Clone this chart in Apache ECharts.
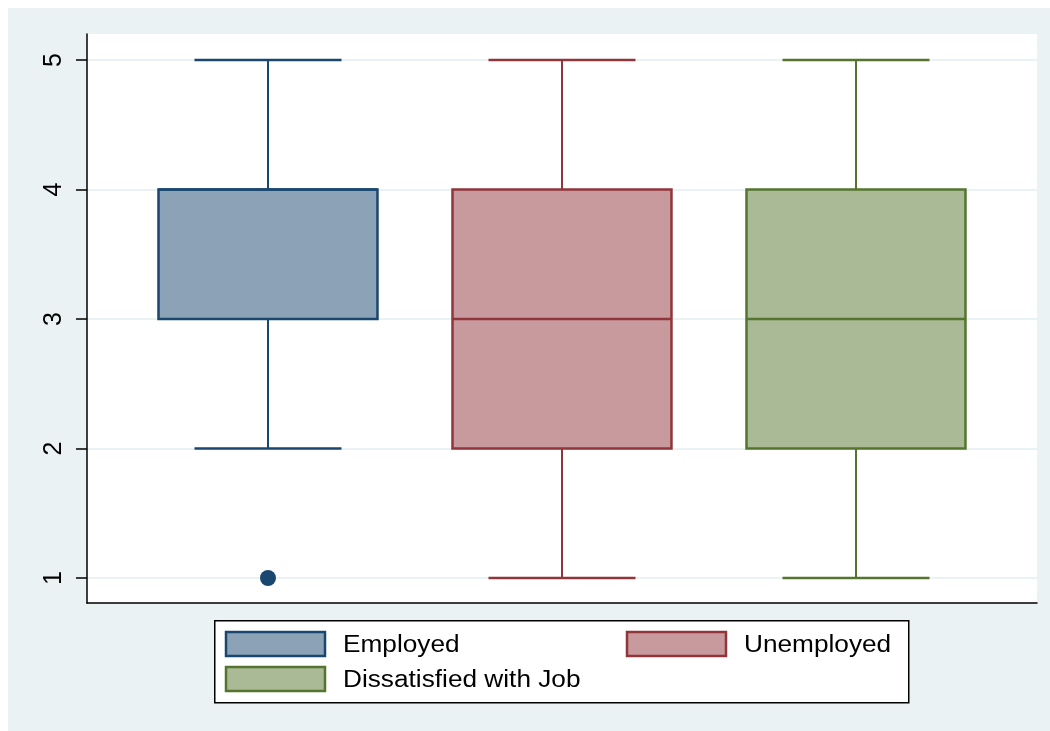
<!DOCTYPE html>
<html>
<head>
<meta charset="utf-8">
<script src="https://cdn.jsdelivr.net/npm/echarts@6/dist/echarts.min.js"></script>
<style>
html,body{margin:0;padding:0;background:#fff;}
#chart{width:1050px;height:731px;}
</style>
</head>
<body>
<div id="chart"></div>
<script>
// ---- data ----
const categories = ['Employed', 'Unemployed', 'Dissatisfied with Job'];
const whiskerLow  = [2, 1, 1];
const quartile1   = [3, 2, 2];
const medians     = [4, 3, 3];
const quartile3   = [4, 4, 4];
const whiskerHigh = [5, 5, 5];
const outlierCat  = [0];
const outlierVal  = [1];
const yTicks      = [1, 2, 3, 4, 5];

// ---- styles ----
const lineColors = ['#1A476F', '#90353B', '#55752F'];
const fillColors = ['#8CA3B7', '#C89A9D', '#AABA97'];
const FONT = '"Liberation Sans", Arial, sans-serif';

const chart = echarts.init(document.getElementById('chart'), null, {renderer: 'canvas'});

function boxRender(params, api) {
  const x = api.value(0);
  const band = api.size([1, 0])[0];
  const boxHalf = band * 0.3724;
  const capHalf = band * 0.25;
  const lo = api.coord([x, api.value(1)]);
  const p1 = api.coord([x, api.value(2)]);
  const md = api.coord([x, api.value(3)]);
  const p3 = api.coord([x, api.value(4)]);
  const hi = api.coord([x, api.value(5)]);
  const i = api.value(6);
  const stroke = lineColors[i];
  const cx = lo[0];
  return {
    type: 'group',
    children: [
      {type: 'line', shape: {x1: cx, y1: p1[1], x2: cx, y2: lo[1]}, style: {stroke, lineWidth: 2}},
      {type: 'line', shape: {x1: cx, y1: p3[1], x2: cx, y2: hi[1]}, style: {stroke, lineWidth: 2}},
      {type: 'line', shape: {x1: cx - capHalf, y1: lo[1], x2: cx + capHalf, y2: lo[1]}, style: {stroke, lineWidth: 2.3}},
      {type: 'line', shape: {x1: cx - capHalf, y1: hi[1], x2: cx + capHalf, y2: hi[1]}, style: {stroke, lineWidth: 2.3}},
      {type: 'rect', shape: {x: cx - boxHalf, y: p3[1], width: boxHalf * 2, height: p1[1] - p3[1]},
        style: {fill: fillColors[i], stroke, lineWidth: 2.5}},
      {type: 'line', shape: {x1: cx - boxHalf, y1: md[1], x2: cx + boxHalf, y2: md[1]}, style: {stroke, lineWidth: 2.5}}
    ]
  };
}

const series = categories.map((name, i) => ({
  name: name,
  type: 'custom',
  xAxisIndex: 1,
  yAxisIndex: 1,
  renderItem: boxRender,
  encode: {x: 0, y: [1, 2, 3, 4, 5]},
  data: [[i + 1, whiskerLow[i], quartile1[i], medians[i], quartile3[i], whiskerHigh[i], i]],
  z: 5
}));

series.push({
  name: 'outliers',
  type: 'scatter',
  xAxisIndex: 1,
  yAxisIndex: 1,
  symbol: 'circle',
  symbolSize: 16,
  itemStyle: {color: lineColors[0], opacity: 1},
  data: outlierCat.map((c, k) => [c + 1, outlierVal[k]]),
  z: 6
});

// legend built from category names
const legendGraphics = [
  {type: 'rect', left: 214, top: 620, shape: {x: 0, y: 0, width: 694, height: 82},
    style: {fill: '#ffffff', stroke: '#000000', lineWidth: 1.5}, z: 10}
];
const legendPos = [[226, 632], [627, 632], [226, 667]];
categories.forEach((name, i) => {
  const [lx, ly] = legendPos[i];
  legendGraphics.push({type: 'rect', x: lx, y: ly, shape: {x: 0, y: 0, width: 99, height: 24},
    style: {fill: fillColors[i], stroke: lineColors[i], lineWidth: 2.5}, z: 11});
  legendGraphics.push({type: 'text', x: lx + 117, y: ly + 14, scaleX: 1.14,
    style: {text: name, fill: '#000', font: '23px ' + FONT, textVerticalAlign: 'middle', textAlign: 'left'}, z: 11});
});

const option = {
  backgroundColor: '#ffffff',
  animation: false,
  graphic: [
    {type: 'rect', x: 8, y: 8, shape: {x: 0, y: 0, width: 1050, height: 731},
      style: {fill: '#EAF2F3'}, z: -10, silent: true}
  ].concat(legendGraphics),
  grid: [
    {left: 87, right: 13, top: 34, bottom: 128, show: true, backgroundColor: '#ffffff', borderWidth: 0, containLabel: false},
    {left: 87, right: 13, top: 60, bottom: 153, containLabel: false}
  ],
  xAxis: [
    {type: 'value', gridIndex: 0, min: 0, max: 1,
      axisLine: {show: true, onZero: false, lineStyle: {color: '#000', width: 1.5}},
      axisTick: {show: false}, axisLabel: {show: false}, splitLine: {show: false}},
    {type: 'value', gridIndex: 1, min: 0.3844, max: 3.6157,
      axisLine: {show: false}, axisTick: {show: false}, axisLabel: {show: false}, splitLine: {show: false}}
  ],
  yAxis: [
    {type: 'value', gridIndex: 0, min: 0, max: 1,
      axisLine: {show: true, onZero: false, lineStyle: {color: '#000', width: 1.5}},
      axisTick: {show: false}, axisLabel: {show: false}, splitLine: {show: false}},
    {type: 'value', gridIndex: 1, min: yTicks[0], max: yTicks[yTicks.length - 1], interval: 1,
      axisLine: {show: false},
      axisTick: {show: true, length: 11, lineStyle: {color: '#000', width: 1.5}},
      axisLabel: {show: true, rotate: 90, margin: 20, fontSize: 25, fontFamily: FONT, color: '#000'},
      splitLine: {show: true, lineStyle: {color: '#EAF2F3', width: 2}}}
  ],
  series: series
};

chart.setOption(option);
</script>
</body>
</html>
